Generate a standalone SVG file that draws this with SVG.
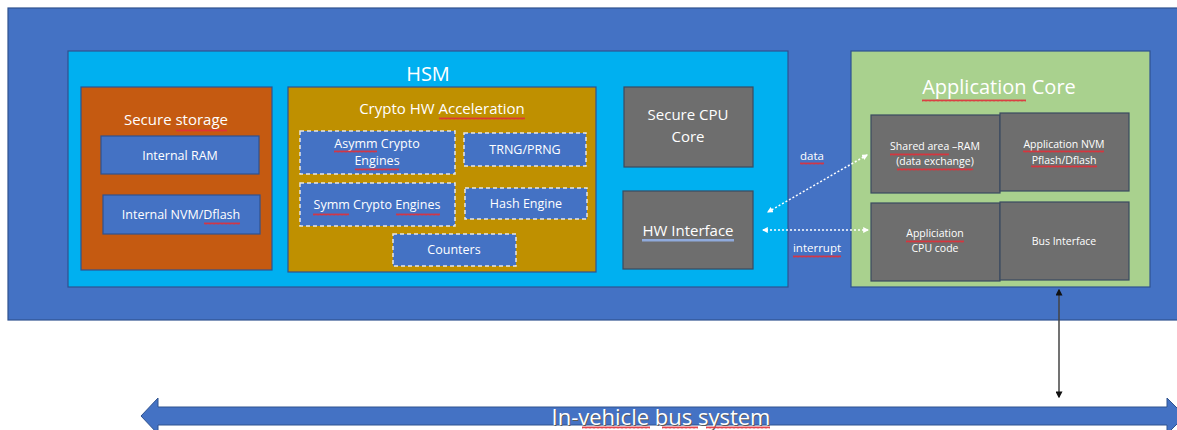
<svg xmlns="http://www.w3.org/2000/svg" width="1177" height="430" viewBox="0 0 1177 430">
  <defs>
    <style>
      text { font-family: "Open Sans", "Noto Sans", "Liberation Sans", sans-serif; fill: #ffffff; text-anchor: middle; }
      .title { font-size: 20px; }
      .sub { font-size: 15px; }
      .lbl { font-size: 12.5px; }
      .sm { font-size: 10.5px; }
      .edge { font-size: 11.5px; }
      .bus { font-size: 22px; }
      .shadow { fill: #5A5A5A; }
      .blue { fill: #4472C4; stroke: #2F528F; stroke-width: 1.2; }
      .dash { fill: #4472C4; stroke: #E6E6E6; stroke-width: 1.5; stroke-dasharray: 4 3; }
      .gray { fill: #6E6E6E; stroke: #3A4A60; stroke-width: 1.2; }
      .dot { stroke: #ffffff; stroke-width: 1.5; stroke-dasharray: 2 2; fill: none; }
      .sq { fill: url(#wave); }
    </style>
    <!-- red wavy spell-check underline; tiles every 3px, so strips sit on y multiples of 3 -->
    <pattern id="wave" width="4" height="3" patternUnits="userSpaceOnUse">
      <path d="M0 2.5 L1 0.5 L2 2.5 L3 0.5 L4 2.5" fill="none" stroke="#E0303A" stroke-width="0.9"/>
    </pattern>
    <marker id="whiteHead" viewBox="0 0 10 10" refX="8" refY="5" markerWidth="6" markerHeight="6" orient="auto-start-reverse" markerUnits="userSpaceOnUse">
      <path d="M0 0 L10 5 L0 10 Z" fill="#ffffff"/>
    </marker>
    <marker id="blackHead" viewBox="0 0 10 10" refX="8" refY="5" markerWidth="7" markerHeight="7" orient="auto-start-reverse" markerUnits="userSpaceOnUse">
      <path d="M0 0 L10 5 L0 10 Z" fill="#111111"/>
    </marker>
  </defs>

  <!-- ECU background -->
  <rect id="ecu" x="8" y="8" width="1175" height="312" fill="#4472C4" stroke="#2F528F" stroke-width="1.2"/>

  <!-- HSM block -->
  <g id="hsm">
    <rect x="68" y="51" width="720" height="236" fill="#00B0F0" stroke="#2F528F" stroke-width="1.2"/>
    <text class="title" x="428" y="81">HSM</text>
  </g>

  <g id="secure-storage">
    <rect x="81" y="87" width="191" height="183" fill="#C55A11" stroke="#2F528F" stroke-width="1.2"/>
    <text class="sub" x="176" y="125">Secure storage</text>
    <rect class="sq" x="176" y="129" width="51" height="3"/>
  </g>
  <g id="internal-ram">
    <rect class="blue" x="101" y="136" width="158" height="38"/>
    <text class="lbl" x="180" y="160">Internal RAM</text>
  </g>
  <g id="internal-nvm">
    <rect class="blue" x="103" y="195" width="157" height="39"/>
    <text class="lbl" x="181" y="219">Internal NVM/Dflash</text>
    <rect class="sq" x="204" y="222" width="36" height="3"/>
  </g>

  <g id="crypto">
    <rect x="288" y="87" width="308" height="185" fill="#BF9000" stroke="#2F528F" stroke-width="1.2"/>
    <text class="sub" x="442" y="114">Crypto HW Acceleration</text>
    <rect class="sq" x="439" y="117" width="86" height="3"/>
  </g>
  <g id="asymm">
    <rect class="dash" x="300" y="131" width="155" height="43"/>
    <text class="lbl" x="377" y="148">Asymm Crypto</text>
    <text class="lbl" x="377" y="165">Engines</text>
    <rect class="sq" x="334" y="150" width="43" height="3"/>
    <rect class="sq" x="355" y="168" width="44" height="3"/>
  </g>
  <g id="trng">
    <rect class="dash" x="464" y="133" width="122" height="33"/>
    <text class="lbl" x="525" y="154">TRNG/PRNG</text>
  </g>
  <g id="symm">
    <rect class="dash" x="300" y="183" width="155" height="43"/>
    <text class="lbl" x="377" y="209">Symm Crypto Engines</text>
    <rect class="sq" x="313" y="213" width="36" height="3"/>
    <rect class="sq" x="396" y="213" width="44" height="3"/>
  </g>
  <g id="hash">
    <rect class="dash" x="465" y="188" width="122" height="31"/>
    <text class="lbl" x="526" y="208">Hash Engine</text>
  </g>
  <g id="counters">
    <rect class="dash" x="393" y="234" width="123" height="32"/>
    <text class="lbl" x="454" y="254">Counters</text>
  </g>

  <g id="secure-cpu">
    <rect class="gray" x="624" y="87" width="129" height="80"/>
    <text class="sub" x="688" y="120">Secure CPU</text>
    <text class="sub" x="688" y="142">Core</text>
  </g>
  <g id="hw-interface">
    <rect class="gray" x="623" y="191" width="130" height="78"/>
    <text class="sub" x="688" y="236">HW Interface</text>
    <rect x="642" y="239" width="92" height="2.5" fill="#8FAADC"/>
  </g>

  <!-- Application core -->
  <g id="app-core">
    <rect x="851" y="51" width="299" height="236" fill="#A9D18E" stroke="#2F528F" stroke-width="1.2"/>
    <text class="title" x="999" y="94">Application Core</text>
    <rect class="sq" x="922" y="99" width="104" height="3"/>
  </g>
  <g id="shared-ram">
    <rect class="gray" x="871" y="115" width="129" height="78"/>
    <text class="sm" x="935" y="150">Shared area –RAM</text>
    <text class="sm" x="935" y="165">(data exchange)</text>
    <rect class="sq" x="890" y="153" width="59" height="3"/>
    <rect class="sq" x="897" y="168" width="76" height="3"/>
  </g>
  <g id="app-nvm">
    <rect class="gray" x="1000" y="113" width="129" height="78"/>
    <text class="sm" x="1064" y="148">Application NVM</text>
    <text class="sm" x="1064" y="164">Pflash/Dflash</text>
    <rect class="sq" x="1023" y="150" width="81" height="3"/>
    <rect class="sq" x="1031" y="165" width="66" height="3"/>
  </g>
  <g id="app-cpu">
    <rect class="gray" x="871" y="203" width="129" height="78"/>
    <text class="sm" x="935" y="237">Appliciation</text>
    <text class="sm" x="935" y="252">CPU code</text>
    <rect class="sq" x="906" y="240" width="58" height="3"/>
  </g>
  <g id="bus-interface">
    <rect class="gray" x="1000" y="202" width="129" height="78"/>
    <text class="sm" x="1064" y="245">Bus Interface</text>
  </g>

  <!-- In-vehicle bus -->
  <g id="vehicle-bus">
    <path d="M141 416 L158 398 L158 407 L1167 407 L1167 398 L1185 416 L1167 434 L1167 425 L158 425 L158 434 Z" fill="#4472C4" stroke="#2F528F" stroke-width="1"/>
    <text class="bus shadow" x="662" y="426">In-vehicle bus system</text>
    <text class="bus" x="661" y="425">In-vehicle bus system</text>
    <rect class="sq" x="582" y="426" width="68" height="3"/>
    <rect class="sq" x="662" y="426" width="36" height="3"/>
    <rect class="sq" x="706" y="426" width="64" height="3"/>
  </g>

  <!-- Connectors -->
  <g id="connectors">
    <line class="dot" x1="867" y1="155" x2="768" y2="212" marker-start="url(#whiteHead)" marker-end="url(#whiteHead)"/>
    <line class="dot" x1="868" y1="230" x2="763" y2="230" marker-start="url(#whiteHead)" marker-end="url(#whiteHead)"/>
    <line x1="1059" y1="290" x2="1059" y2="397" stroke="#444444" stroke-width="1.5" marker-start="url(#blackHead)" marker-end="url(#blackHead)"/>
    <text class="edge" x="812" y="160">data</text>
    <rect class="sq" x="800" y="162" width="24" height="3"/>
    <text class="edge" x="817" y="252">interrupt</text>
    <rect class="sq" x="793" y="255" width="48" height="3"/>
  </g>
</svg>
